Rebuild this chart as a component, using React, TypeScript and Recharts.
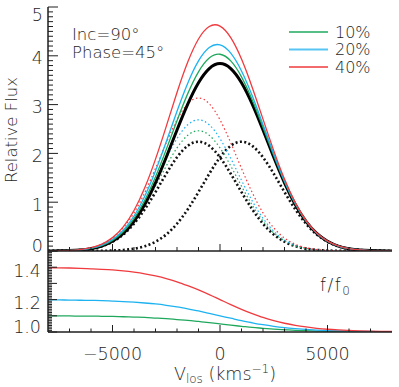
import React from 'react';
import { LineChart, Line, XAxis, YAxis } from 'recharts';

// line-of-sight velocity grid (km/s)
const V = [-8000, -7500, -7000, -6500, -6000, -5500, -5000, -4500, -4000, -3500, -3000, -2500, -2000, -1500, -1000, -500, 0, 500, 1000, 1500, 2000, 2500, 3000, 3500, 4000, 4500, 5000, 5500, 6000, 6500, 7000, 7500, 8000];

// dotted components (top panel)
const LEFT_0 = [0.001, 0.003, 0.009, 0.021, 0.047, 0.098, 0.190, 0.338, 0.559, 0.854, 1.208, 1.583, 1.920, 2.155, 2.240, 2.155, 1.920, 1.583, 1.208, 0.854, 0.559, 0.338, 0.190, 0.098, 0.047, 0.021, 0.009, 0.003, 0.001, 0, 0, 0, 0];
const RIGHT_0 = [0, 0, 0, 0, 0.001, 0.003, 0.009, 0.021, 0.047, 0.098, 0.190, 0.338, 0.559, 0.854, 1.208, 1.583, 1.920, 2.155, 2.240, 2.155, 1.920, 1.583, 1.208, 0.854, 0.559, 0.338, 0.190, 0.098, 0.047, 0.021, 0.009, 0.003, 0.001];
const LEFT_10 = [0.001, 0.004, 0.010, 0.023, 0.052, 0.108, 0.209, 0.372, 0.615, 0.939, 1.329, 1.741, 2.112, 2.371, 2.464, 2.371, 2.112, 1.741, 1.329, 0.939, 0.615, 0.372, 0.209, 0.108, 0.052, 0.023, 0.010, 0.004, 0.001, 0, 0, 0, 0];
const LEFT_20 = [0.001, 0.004, 0.010, 0.025, 0.057, 0.118, 0.227, 0.406, 0.670, 1.025, 1.450, 1.899, 2.304, 2.586, 2.688, 2.586, 2.304, 1.899, 1.450, 1.025, 0.670, 0.406, 0.227, 0.118, 0.057, 0.025, 0.010, 0.004, 0.001, 0, 0, 0, 0];
const LEFT_40 = [0.002, 0.005, 0.012, 0.029, 0.066, 0.138, 0.265, 0.474, 0.782, 1.196, 1.692, 2.216, 2.688, 3.017, 3.136, 3.017, 2.688, 2.216, 1.692, 1.196, 0.782, 0.474, 0.265, 0.138, 0.066, 0.029, 0.012, 0.005, 0.002, 0.001, 0, 0, 0];

// solid totals (top panel)
const TOTAL_0 = [0.001, 0.003, 0.009, 0.021, 0.048, 0.101, 0.199, 0.359, 0.606, 0.952, 1.398, 1.921, 2.479, 3.009, 3.448, 3.738, 3.840, 3.738, 3.448, 3.009, 2.479, 1.921, 1.398, 0.952, 0.606, 0.359, 0.199, 0.101, 0.048, 0.021, 0.009, 0.003, 0.001];
const TOTAL_10 = [0.001, 0.004, 0.010, 0.023, 0.053, 0.111, 0.218, 0.393, 0.662, 1.037, 1.519, 2.079, 2.671, 3.225, 3.672, 3.954, 4.032, 3.896, 3.569, 3.094, 2.535, 1.955, 1.417, 0.962, 0.611, 0.361, 0.200, 0.102, 0.048, 0.021, 0.009, 0.003, 0.001];
const TOTAL_20 = [0.001, 0.004, 0.010, 0.025, 0.058, 0.121, 0.236, 0.427, 0.717, 1.123, 1.640, 2.237, 2.863, 3.440, 3.896, 4.169, 4.224, 4.054, 3.690, 3.180, 2.590, 1.989, 1.435, 0.972, 0.616, 0.363, 0.200, 0.102, 0.048, 0.021, 0.009, 0.003, 0.001];
const TOTAL_40 = [0.002, 0.005, 0.012, 0.029, 0.067, 0.141, 0.274, 0.495, 0.829, 1.294, 1.882, 2.554, 3.247, 3.871, 4.344, 4.600, 4.608, 4.371, 3.932, 3.351, 2.702, 2.057, 1.473, 0.992, 0.625, 0.367, 0.202, 0.103, 0.049, 0.022, 0.009, 0.003, 0.001];

// f/f0 ratios (bottom panel)
const RATIO_10 = [1.099, 1.099, 1.099, 1.098, 1.098, 1.097, 1.096, 1.094, 1.092, 1.090, 1.086, 1.082, 1.077, 1.072, 1.065, 1.058, 1.050, 1.042, 1.035, 1.028, 1.023, 1.018, 1.014, 1.010, 1.008, 1.006, 1.004, 1.003, 1.002, 1.002, 1.001, 1.001, 1.001];
const RATIO_20 = [1.199, 1.198, 1.197, 1.196, 1.195, 1.194, 1.191, 1.188, 1.184, 1.179, 1.173, 1.165, 1.155, 1.143, 1.130, 1.115, 1.100, 1.085, 1.070, 1.057, 1.045, 1.035, 1.027, 1.021, 1.016, 1.012, 1.009, 1.007, 1.005, 1.004, 1.003, 1.002, 1.001];
const RATIO_40 = [1.397, 1.396, 1.395, 1.393, 1.390, 1.387, 1.383, 1.377, 1.369, 1.359, 1.346, 1.330, 1.310, 1.286, 1.260, 1.231, 1.200, 1.169, 1.140, 1.114, 1.090, 1.070, 1.054, 1.041, 1.031, 1.023, 1.017, 1.013, 1.010, 1.007, 1.005, 1.004, 1.003];

// ticks
const X_TICKS = [-7000, -6000, -5000, -4000, -3000, -2000, -1000, 0, 1000, 2000, 3000, 4000, 5000, 6000, 7000];
const TOP_Y_TICKS = Array.from({ length: 51 }, (_, i) => i / 10);
const BOT_Y_TICKS = Array.from({ length: 51 }, (_, i) => 1 + i / 100);
const LEGEND_LABELS = ['10%', '20%', '40%'];

const INK = '#1e1e1e';
const FONT = '"DejaVu Sans", "Liberation Sans", sans-serif';
const FW = 200;
const RED = '#f03a3e';
const BLUE = '#1db2f0';
const GREEN = '#1fa85c';
const LEGEND_COLORS = [GREEN, BLUE, RED];

const topData = V.map((v, i) => ({
  v,
  l0: LEFT_0[i], r0: RIGHT_0[i], l10: LEFT_10[i], l20: LEFT_20[i], l40: LEFT_40[i],
  t0: TOTAL_0[i], t10: TOTAL_10[i], t20: TOTAL_20[i], t40: TOTAL_40[i],
}));
const botData = V.map((v, i) => ({ v, f10: RATIO_10[i], f20: RATIO_20[i], f40: RATIO_40[i] }));

const fmtX = (v: number) => (v < 0 ? '\u2212' + Math.abs(v) : String(v));

function xTick(dir: number, major: number, minor: number, labelDy?: number) {
  return (props: any) => {
    const { x, y, payload } = props;
    const v = payload.value;
    const maj = v % 5000 === 0;
    const len = maj ? major : minor;
    return (
      <g>
        <line x1={x} x2={x} y1={y} y2={y + dir * len} stroke={INK} strokeWidth={1} />
        {labelDy !== undefined && maj ? (
          <text x={x} y={y + labelDy} textAnchor="middle" fontSize={17.5} fill={INK} fontFamily={FONT} fontWeight={FW}>
            {fmtX(v)}
          </text>
        ) : null}
      </g>
    );
  };
}

function yTick(
  dir: number,
  isMajor: (v: number) => boolean,
  major: number,
  minor: number,
  label?: { fmt: (v: number) => string | null; off: number; min: number; max: number; gap: number }
) {
  return (props: any) => {
    const { x, y, payload } = props;
    const v = payload.value;
    const maj = isMajor(v);
    const len = maj ? major : minor;
    const txt = label && maj ? label.fmt(v) : null;
    const cy = label ? Math.min(Math.max(y + label.off, label.min), label.max) : y;
    return (
      <g>
        <line x1={x} x2={x + dir * len} y1={y} y2={y} stroke={INK} strokeWidth={1} />
        {txt ? (
          <text x={x - label!.gap} y={cy + 6.4} textAnchor="end" fontSize={17.5} fill={INK} fontFamily={FONT} fontWeight={FW}>
            {txt}
          </text>
        ) : null}
      </g>
    );
  };
}

const isInt = (v: number) => Math.abs(v - Math.round(v)) < 1e-6;
const isTenth = (v: number) => Math.abs(v * 10 - Math.round(v * 10)) < 1e-6;

const axisLine = { stroke: INK, strokeWidth: 1.5 };

export default function App() {
  return (
    <div style={{ position: 'absolute', left: 0, top: 0, width: 399, height: 387, background: '#fff', overflow: 'hidden' }}>
      <div style={{ position: 'absolute', left: 0, top: 0 }}>
        <LineChart width={399} height={260} data={topData} margin={{ top: 7, right: 7, bottom: 0, left: 0 }}>
          <XAxis xAxisId="main" dataKey="v" type="number" domain={[-8000, 8000]} allowDataOverflow ticks={X_TICKS} interval={0}
            height={9} tickSize={0} tickMargin={0} tickLine={false} axisLine={axisLine} tick={xTick(-1, 7, 4)} />
          <XAxis xAxisId="top" orientation="top" type="number" domain={[-8000, 8000]} allowDataOverflow ticks={X_TICKS} interval={0}
            height={0} tickSize={0} tickMargin={0} tickLine={false} axisLine={axisLine} tick={xTick(1, 7, 4)} />
          <YAxis yAxisId="left" type="number" domain={[0, 5]} allowDataOverflow ticks={TOP_Y_TICKS} interval={0} width={48}
            tickSize={0} tickMargin={0} tickLine={false} axisLine={axisLine}
            tick={yTick(1, isInt, 10, 5, { fmt: (v) => String(Math.round(v)), off: 2, min: 15, max: 246, gap: 5 })} />
          <YAxis yAxisId="right" orientation="right" type="number" domain={[0, 5]} allowDataOverflow ticks={TOP_Y_TICKS} interval={0} width={0}
            tickSize={0} tickMargin={0} tickLine={false} axisLine={axisLine} tick={yTick(-1, isInt, 9, 5)} />
          <Line xAxisId="main" yAxisId="left" dataKey="l0" type="natural" stroke="#111" strokeWidth={2.6} strokeDasharray="2 2.4" dot={false} isAnimationActive={false} />
          <Line xAxisId="main" yAxisId="left" dataKey="r0" type="natural" stroke="#111" strokeWidth={2.6} strokeDasharray="2 2.4" dot={false} isAnimationActive={false} />
          <Line xAxisId="main" yAxisId="left" dataKey="l10" type="natural" stroke={GREEN} strokeWidth={1.2} strokeDasharray="1.5 2.5" dot={false} isAnimationActive={false} />
          <Line xAxisId="main" yAxisId="left" dataKey="l20" type="natural" stroke={BLUE} strokeWidth={1.2} strokeDasharray="1.5 2.5" dot={false} isAnimationActive={false} />
          <Line xAxisId="main" yAxisId="left" dataKey="l40" type="natural" stroke={RED} strokeWidth={1.2} strokeDasharray="1.5 2.5" dot={false} isAnimationActive={false} />
          <Line xAxisId="main" yAxisId="left" dataKey="t0" type="natural" stroke="#000" strokeWidth={3} dot={false} isAnimationActive={false} />
          <Line xAxisId="main" yAxisId="left" dataKey="t10" type="natural" stroke={GREEN} strokeWidth={1.3} dot={false} isAnimationActive={false} />
          <Line xAxisId="main" yAxisId="left" dataKey="t20" type="natural" stroke={BLUE} strokeWidth={1.3} dot={false} isAnimationActive={false} />
          <Line xAxisId="main" yAxisId="left" dataKey="t40" type="natural" stroke={RED} strokeWidth={1.3} dot={false} isAnimationActive={false} />
        </LineChart>
      </div>
      <div style={{ position: 'absolute', left: 0, top: 245 }}>
        <LineChart width={399} height={142} data={botData} margin={{ top: 6, right: 7, bottom: 0, left: 0 }}>
          <XAxis xAxisId="main" dataKey="v" type="number" domain={[-8000, 8000]} allowDataOverflow ticks={X_TICKS} interval={0}
            height={55} tickSize={0} tickMargin={0} tickLine={false} axisLine={axisLine} tick={xTick(-1, 7, 3.5, 28)} />
          <XAxis xAxisId="top" orientation="top" type="number" domain={[-8000, 8000]} allowDataOverflow ticks={X_TICKS} interval={0}
            height={0} tickSize={0} tickMargin={0} tickLine={false} axisLine={axisLine} tick={xTick(1, 7, 3.5)} />
          <YAxis yAxisId="left" type="number" domain={[1, 1.5]} allowDataOverflow ticks={BOT_Y_TICKS} interval={0} width={48}
            tickSize={0} tickMargin={0} tickLine={false} axisLine={axisLine}
            tick={yTick(1, isTenth, 9, 4, {
              fmt: (v) => (Math.round(v * 10) % 2 === 0 ? v.toFixed(1) : null),
              off: 3, min: 0, max: 82, gap: 7,
            })} />
          <YAxis yAxisId="right" orientation="right" type="number" domain={[1, 1.5]} allowDataOverflow ticks={BOT_Y_TICKS} interval={0} width={0}
            tickSize={0} tickMargin={0} tickLine={false} axisLine={axisLine} tick={yTick(-1, isTenth, 7, 3)} />
          <Line xAxisId="main" yAxisId="left" dataKey="f10" type="monotone" stroke={GREEN} strokeWidth={1.3} dot={false} isAnimationActive={false} />
          <Line xAxisId="main" yAxisId="left" dataKey="f20" type="monotone" stroke={BLUE} strokeWidth={1.3} dot={false} isAnimationActive={false} />
          <Line xAxisId="main" yAxisId="left" dataKey="f40" type="monotone" stroke={RED} strokeWidth={1.3} dot={false} isAnimationActive={false} />
        </LineChart>
      </div>
      <svg width={399} height={387} style={{ position: 'absolute', left: 0, top: 0, pointerEvents: 'none' }}>
        <g fontFamily={FONT} fontWeight={FW} fill={INK}>
          <text x={17} y={130} fontSize={16.5} textAnchor="middle" transform="rotate(-90 17 130)">Relative Flux</text>
          <text x={72} y={40} fontSize={16.5}>Inc=90°</text>
          <text x={72} y={58} fontSize={16.5}>Phase=45°</text>
          {LEGEND_LABELS.map((lab, i) => (
            <g key={lab}>
              <line x1={289} x2={328} y1={32 + i * 17.5} y2={32 + i * 17.5} stroke={LEGEND_COLORS[i]} strokeWidth={2.2} strokeOpacity={0.75} />
              <text x={335} y={37.5 + i * 17.5} fontSize={16}>{lab}</text>
            </g>
          ))}
          <text x={320} y={291} fontSize={17} letterSpacing={1.5}>
            f/f<tspan fontSize={12} dy={4}>0</tspan>
          </text>
          <text x={225} y={380} fontSize={17.5} textAnchor="middle">
            V<tspan fontSize={12} dy={3}>los</tspan>
            <tspan dy={-3}> (kms</tspan>
            <tspan fontSize={12} dy={-7}>{'\u22121'}</tspan>
            <tspan dy={7}>)</tspan>
          </text>
        </g>
      </svg>
    </div>
  );
}
